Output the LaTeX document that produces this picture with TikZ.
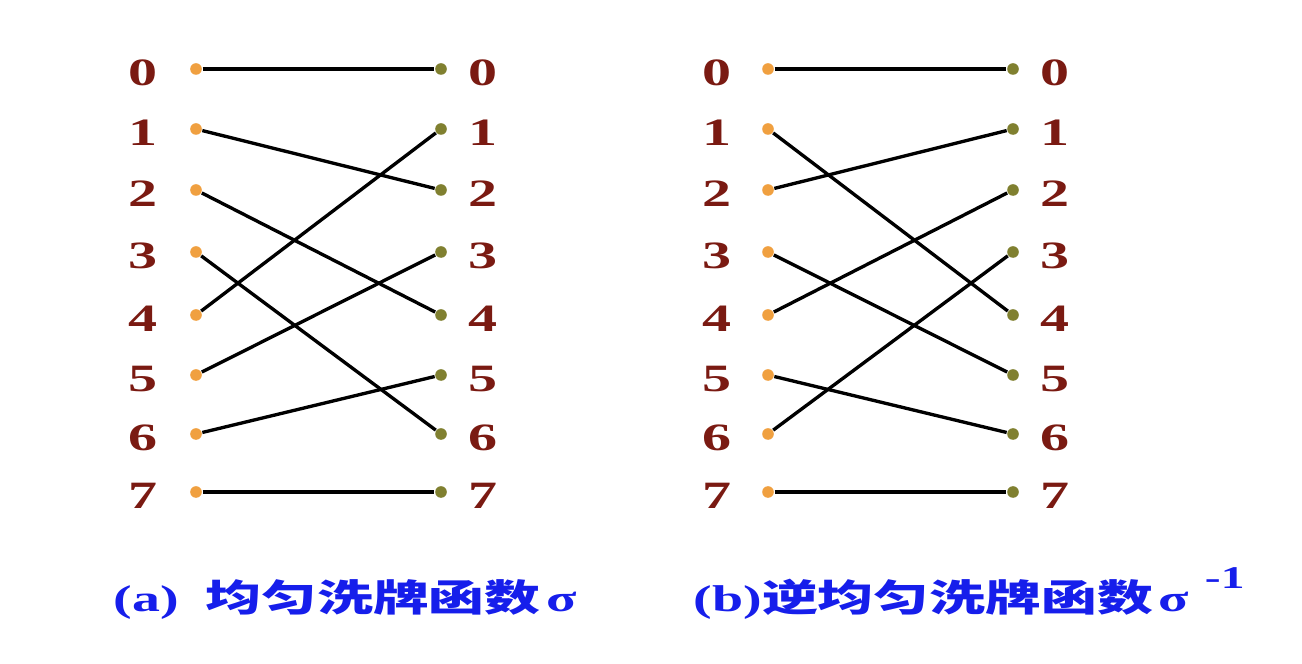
\documentclass[tikz,border=0pt]{standalone}
\usepackage{graphicx}
\usepackage{fontspec}
\setmainfont{Liberation Serif}
\newfontfamily\cjk{Noto Sans CJK SC Bold}
\usetikzlibrary{positioning}
\definecolor{numred}{RGB}{122,26,18}
\definecolor{inorange}{RGB}{240,160,64}
\definecolor{outolive}{RGB}{128,128,48}
\definecolor{capblue}{RGB}{22,30,235}
% Stretched text, as in the scanned figure
\newcommand{\widen}[1]{\scalebox{1.5}[1]{#1}}
\tikzset{
  % Port number
  num/.style={text=numred, inner sep=0pt,
    font=\fontsize{11}{13}\selectfont\bfseries},
  % Input dot
  idot/.style={fill=inorange, shape=circle, minimum size=3.3pt,
    inner sep=0pt},
  % Output dot
  odot/.style={idot, fill=outolive},
  % Wire
  wire/.style={line width=0.95pt},
  % Caption
  caption/.style={text=capblue, inner sep=0pt, anchor=base west,
    font=\fontsize{10.6}{13}\selectfont\bfseries},
}
\begin{document}
\begin{tikzpicture}[x=0.01cm, y=-0.01cm]
  \useasboundingbox (0,0) rectangle (1302,664);

  \foreach \i/\y in {0/69,1/129,2/190,3/252,4/315,5/375,6/434,7/492}{
    % panel (a)
    \node[num] (anl\i) at (143,\y+4) {\widen{\i}};
    \node[idot] (ai\i) at (196,\y) {};
    \node[odot] (ao\i) at (441,\y) {};
    \node[num] (anr\i) at (483,\y+4) {\widen{\i}};
    % panel (b)
    \node[num] (bnl\i) at (717,\y+4) {\widen{\i}};
    \node[idot] (bi\i) at (768,\y) {};
    \node[odot] (bo\i) at (1013,\y) {};
    \node[num] (bnr\i) at (1055,\y+4) {\widen{\i}};
  }

  \draw[wire] (ai0) -- (ao0);
  \draw[wire] (ai1) -- (ao2);
  \draw[wire] (ai2) -- (ao4);
  \draw[wire] (ai3) -- (ao6);
  \draw[wire] (ai4) -- (ao1);
  \draw[wire] (ai5) -- (ao3);
  \draw[wire] (ai6) -- (ao5);
  \draw[wire] (ai7) -- (ao7);

  \draw[wire] (bi0) -- (bo0);
  \draw[wire] (bi1) -- (bo4);
  \draw[wire] (bi2) -- (bo1);
  \draw[wire] (bi3) -- (bo5);
  \draw[wire] (bi4) -- (bo2);
  \draw[wire] (bi5) -- (bo6);
  \draw[wire] (bi6) -- (bo3);
  \draw[wire] (bi7) -- (bo7);

  \node[caption] (capa) at (113,611)
    {\widen{(a)\hspace{5pt}{\cjk 均匀洗牌函数}\hspace{1pt}σ}};
  \node[caption] (capb) at (693,611)
    {\widen{(b){\cjk 逆均匀洗牌函数}\hspace{1pt}σ\hspace{3pt}\raisebox{1.3ex}{\fontsize{9}{9}\selectfont -1}}};
\end{tikzpicture}
\end{document}
